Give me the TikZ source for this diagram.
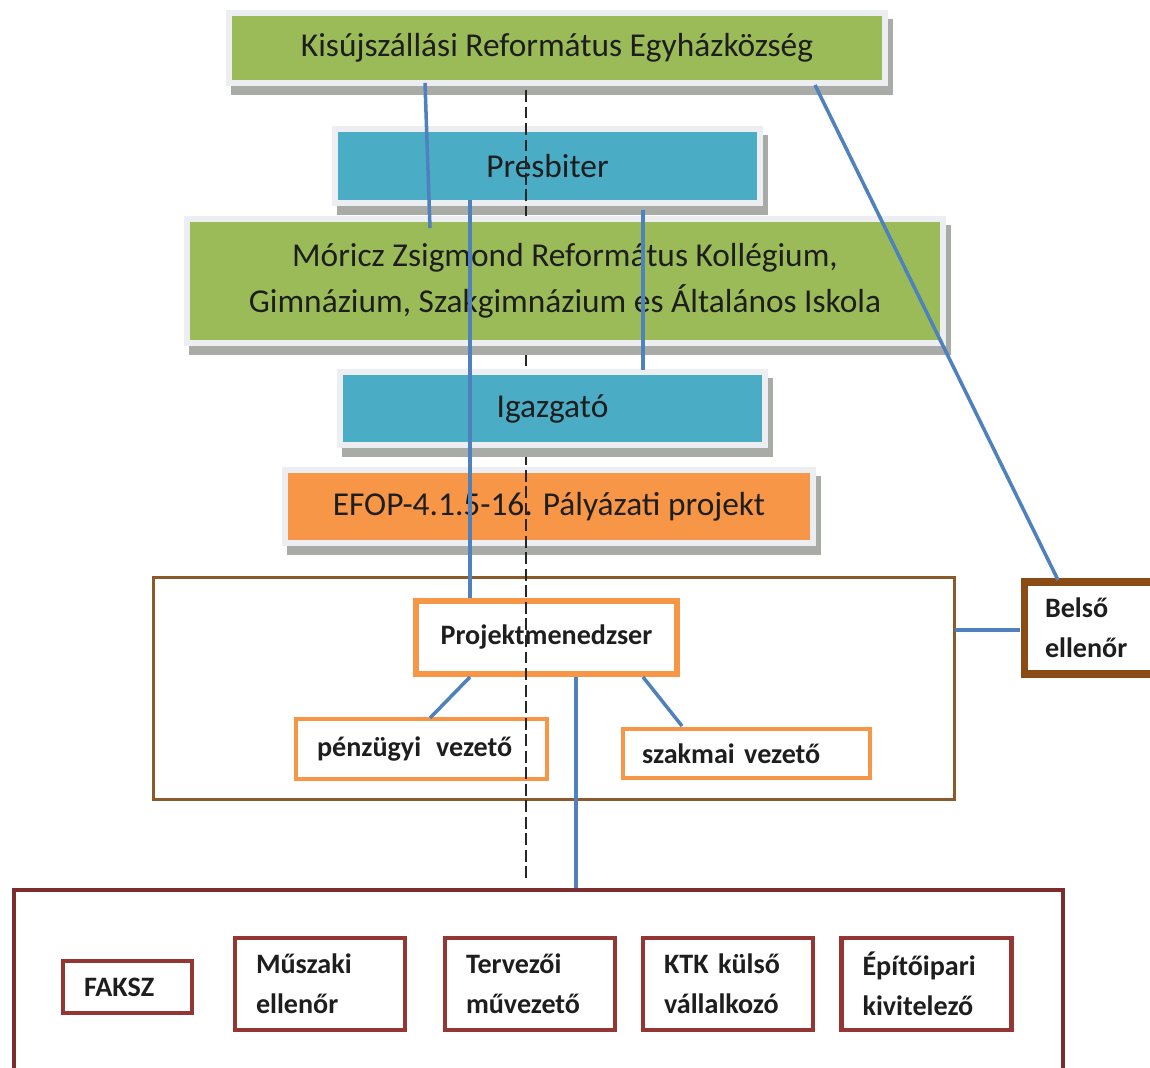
\documentclass[tikz,border=0pt]{standalone}
\usepackage{fontspec}
\setmainfont{Carlito}[BoldFeatures={WordSpace=0.6}]
\usetikzlibrary{calc}
\definecolor{cgreen}{HTML}{9BBB59}
\definecolor{cblue}{HTML}{4BACC6}
\definecolor{corange}{HTML}{F79646}
\definecolor{cpanel}{HTML}{ECEEF2}
\definecolor{cshadow}{HTML}{A9ABA6}
\definecolor{cline}{HTML}{4F81BD}
\definecolor{cbrown}{HTML}{8B5A2B}
\definecolor{cbrownd}{HTML}{8A4B14}
\definecolor{cmaroon}{HTML}{7B2C2C}
\definecolor{cmaroonb}{HTML}{943634}
\definecolor{ctext}{HTML}{1E1E1E}
\begin{document}
\begin{tikzpicture}[x=0.02cm,y=-0.02cm,
  every node/.style={outer sep=0pt, inner sep=0pt, text=ctext},
  panelbox/.style={
    preaction={draw=cshadow, fill=cshadow, line width=6.8pt,
      transform canvas={shift={(0.1cm,-0.18cm)}}},
    preaction={draw=cpanel, line width=6.8pt},
    font=\fontsize{19}{26}\selectfont, align=center},
  greenbox/.style={panelbox, fill=cgreen},
  bluebox/.style={panelbox, fill=cblue},
  orangebox/.style={panelbox, fill=corange},
  obox/.style={draw=corange, fill=white, line width=3pt,
    font=\fontsize{16}{22.7}\selectfont\bfseries},
  mbox/.style={draw=cmaroonb, fill=white, line width=2.8pt,
    font=\fontsize{16}{22.7}\selectfont\bfseries, align=left},
  conn/.style={draw=cline, line width=2pt},
  guide/.style={draw=black!85, line width=1pt, dash pattern=on 6.8pt off 2.6pt}
]
\clip (0,0) rectangle (1150,1068);
\fill[white] (0,0) rectangle (1150,1068);

% top boxes (dashed guide visible over these)
\node[greenbox, minimum width=13cm, minimum height=1.28cm] (kis) at (557,48)
  {Kisújszállási Református Egyházközség};
\node[bluebox, minimum width=8.38cm, minimum height=1.36cm] (pres) at (547.5,166)
  {Presbiter};
\node[orangebox, minimum width=10.44cm, minimum height=1.34cm] (efop) at (549,506.5)
  {EFOP-4.1.5-16. Pályázati projekt};

% project frame
\node[draw=cbrown, line width=1.7pt, minimum width=16.04cm, minimum height=4.46cm] (pmf) at (554,688.5) {};
\node[obox, minimum width=5.22cm, minimum height=1.46cm] (proj) at (546.5,637.5)
  {Projektmenedzser};
\node[obox, line width=2.8pt, minimum width=5.02cm, minimum height=1.2cm,
  text width=4.18cm, align=left] (penz) at (421.5,749) {pénzügyi\hspace{0.2em} vezető};
\node[obox, line width=2.8pt, minimum width=4.94cm, minimum height=0.98cm,
  text width=4.18cm, align=left] (szak) at (746.5,753.5) {szakmai vezető};
\node[draw=cbrownd, fill=white, line width=4pt, minimum width=2.72cm, minimum height=1.84cm,
  text width=1.88cm, align=left, font=\fontsize{16}{22.7}\selectfont\bfseries] (belso) at (1092,628)
  {Belső\\ellenőr};

% bottom frame
\node[draw=cmaroon, line width=2.3pt, minimum width=20.98cm, minimum height=4cm] (bot) at (538.5,990) {};
\node[mbox, minimum width=2.58cm, minimum height=1.04cm, text width=1.74cm] (faksz) at (127.5,987) {FAKSZ};
\node[mbox, minimum width=3.4cm, minimum height=1.84cm, text width=2.56cm] (musz) at (320,984) {Műszaki\\ellenőr};
\node[mbox, minimum width=3.4cm, minimum height=1.84cm, text width=2.56cm] (terv) at (530,984) {Tervezői\\művezető};
\node[mbox, minimum width=3.4cm, minimum height=1.84cm, text width=2.56cm] (ktk) at (728,984) {KTK külső\\vállalkozó};
\node[mbox, minimum width=3.4cm, minimum height=1.84cm, text width=2.56cm] (epit) at (926.5,984) {Építőipari\\kivitelező};

% dashed guide line
\coordinate (gtop) at (526,90);
\coordinate (gbot) at (526,878);
\draw[guide] (gtop) -- (gbot);

% boxes that hide the guide
\node[greenbox, minimum width=15cm, minimum height=2.36cm] (mor) at (565,281)
  {Móricz Zsigmond Református Kollégium,\\Gimnázium, Szakgimnázium es Általános Iskola};
\node[bluebox, minimum width=8.38cm, minimum height=1.34cm] (igaz) at (552.5,408.5)
  {Igazgató};

% connectors
\draw[conn] ($(kis.south)+(-132,3)$) -- ($(mor.north)+(-135,6)$);
\draw[conn] ($(kis.south)+(258,5)$) -- ($(belso.north)+(-34,-2)$);
\draw[conn] ($(pres.south)+(-77.5,0)$) -- ($(proj.north)+(-76.5,-3)$);
\draw[conn] ($(pres.south)+(95.5,10)$) -- ($(igaz.north)+(90.5,-5)$);
\draw[conn] ($(proj.south)+(-76.5,3)$) -- ($(penz.north)+(8.5,-1)$);
\draw[conn] ($(proj.south)+(96.5,3)$) -- ($(szak.north)+(-64.5,-3)$);
\draw[conn] ($(proj.south)+(29.5,3)$) -- ($(bot.north)+(37.5,-2)$);
\draw[conn] ($(pmf.east)+(0,-58.5)$) -- ($(belso.west)+(-4,2)$);
\end{tikzpicture}
\end{document}
